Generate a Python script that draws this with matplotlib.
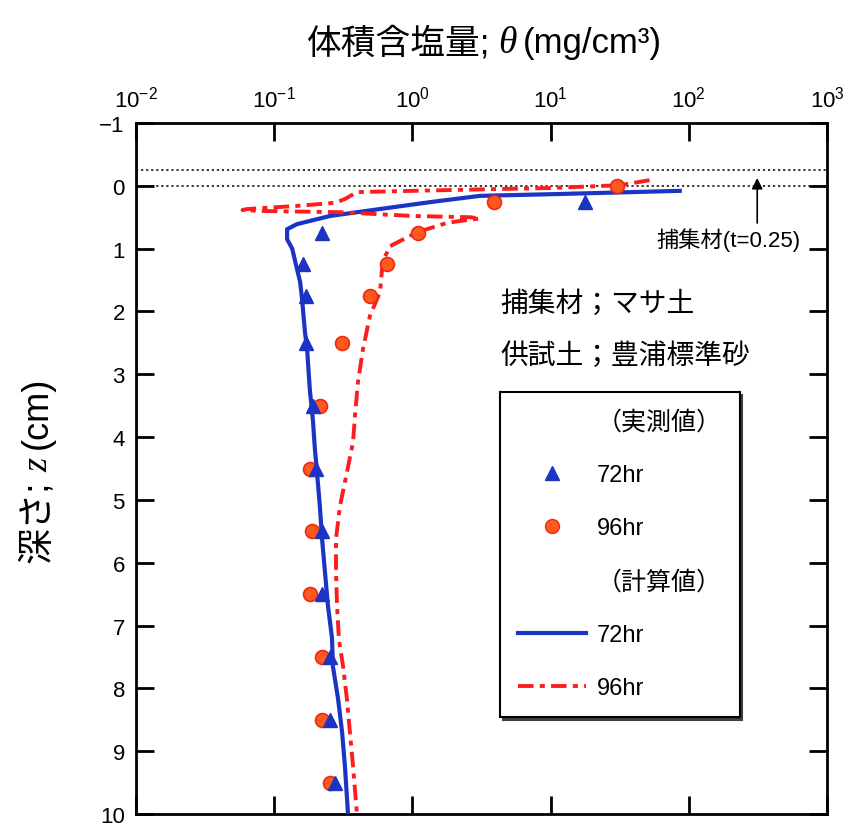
import matplotlib
matplotlib.use("Agg")
import matplotlib.pyplot as plt
from matplotlib.lines import Line2D
from matplotlib.ticker import FixedLocator, NullLocator, LogFormatterSciNotation

plt.rcParams['font.family'] = ['Liberation Sans', 'Noto Sans CJK JP', 'DejaVu Sans']
plt.rcParams['mathtext.fontset'] = 'custom'
plt.rcParams['mathtext.rm'] = 'Liberation Sans'
plt.rcParams['mathtext.it'] = 'Liberation Serif:italic'
plt.rcParams['mathtext.bf'] = 'Liberation Sans:bold'

# ---- data ----
z_obs72 = [0.25, 0.75, 1.25, 1.75, 2.5, 3.5, 4.5, 5.5, 6.5, 7.5, 8.5, 9.5]
theta_obs72 = [17.7, 0.222, 0.161, 0.17, 0.17, 0.191, 0.2, 0.22, 0.222, 0.254, 0.254, 0.275]

z_obs96 = [0.0, 0.25, 0.75, 1.25, 1.75, 2.5, 3.5, 4.5, 5.5, 6.5, 7.5, 8.5, 9.5]
theta_obs96 = [30, 3.9, 1.1, 0.65, 0.49, 0.31, 0.215, 0.181, 0.188, 0.181, 0.222, 0.222, 0.254]

z_calc72 = [0.08, 0.13, 0.16, 0.26, 0.37, 0.48, 0.61, 0.69, 0.85, 1.0, 1.32, 1.53, 1.8,
            2.33, 2.6, 3.24, 3.76, 4.19, 4.56, 5.1, 5.62, 6.15, 6.69, 7.2, 7.65, 8.17,
            8.7, 9.24, 10.0]
theta_calc72 = [86, 11.7, 3.08, 1.34, 0.58, 0.254, 0.146, 0.124, 0.124, 0.135, 0.146, 0.154,
                0.159, 0.167, 0.173, 0.181, 0.191, 0.197, 0.204, 0.214, 0.222, 0.233, 0.245,
                0.262, 0.266, 0.29, 0.31, 0.325, 0.342]

z_calc96 = [-0.09, -0.01, 0.035, 0.067, 0.10, 0.21, 0.27, 0.32, 0.37, 0.385, 0.40, 0.42,
            0.48, 0.50, 0.52, 0.56, 0.59, 0.74, 0.96, 1.2, 1.69, 2.07, 2.6, 3.12, 3.66,
            4.08, 4.56, 5.1, 5.62, 6.15, 6.69, 7.22, 7.65, 8.17, 8.7, 9.24, 10.0]
theta_calc96 = [52, 31.8, 9.9, 1.87, 0.397, 0.325, 0.275, 0.146, 0.0635, 0.059, 0.079, 0.30,
                1.0, 2.61, 3.08, 2.21, 1.78, 1.08, 0.69, 0.61, 0.583, 0.493, 0.439, 0.404,
                0.384, 0.372, 0.336, 0.299, 0.28, 0.28, 0.285, 0.294, 0.315, 0.336, 0.353,
                0.372, 0.397]

x_ticks = [1e-2, 1e-1, 1e0, 1e1, 1e2, 1e3]
y_ticks = [-1, 0, 1, 2, 3, 4, 5, 6, 7, 8, 9, 10]
trap_lines = [-0.25, 0.0]

blue = '#1c34c4'
red = '#ff1c1c'

W, H = 851, 828
fig = plt.figure(figsize=(W/100, H/100), dpi=100)
ax = fig.add_axes([136/W, 1-815/H, 691/W, 691/H])

ax.set_xscale('log')
ax.set_xlim(1e-2, 1e3)
ax.set_ylim(10, -1)

for zl in trap_lines:
    ax.axhline(zl, color='#222222', lw=1.3, ls=(0, (1.2, 1.6)), zorder=1)

ax.plot(theta_calc72, z_calc72, color=blue, lw=3, zorder=3)
ax.plot(theta_calc96, z_calc96, color=red, lw=2.8, dashes=(4, 1.6, 1.3, 1.6), zorder=3)
ax.plot(theta_obs96, z_obs96, 'o', ms=10, mfc='#ff5a1e', mec='#ee2a10', mew=1.2, zorder=4)
ax.plot(theta_obs72, z_obs72, '^', ms=10, mfc=blue, mec=blue, zorder=5)

ax.xaxis.set_major_locator(FixedLocator(x_ticks))
ax.xaxis.set_minor_locator(NullLocator())
ax.xaxis.set_major_formatter(LogFormatterSciNotation())
ax.yaxis.set_major_locator(FixedLocator(y_ticks))
ax.tick_params(axis='both', which='major', direction='in', length=13, width=2,
               top=True, bottom=True, left=True, right=True,
               labeltop=True, labelbottom=False, labelsize=16)
ax.tick_params(axis='x', pad=8)
ax.tick_params(axis='y', pad=8)
for s in ax.spines.values():
    s.set_linewidth(2)

ax.text(0.527, 1 - (305-124)/691, '捕集材；マサ土', transform=ax.transAxes,
        fontsize=20, ha='left', va='center')
ax.text(0.527, 1 - (357-124)/691, '供試土；豊浦標準砂', transform=ax.transAxes,
        fontsize=20, ha='left', va='center')
ax.text(0.962, 1 - (240-124)/691, '捕集材(t=0.25)', transform=ax.transAxes,
        fontsize=16, ha='right', va='center')
ax.annotate('', xy=(0.899, 1 - (179-124)/691), xytext=(0.899, 1 - (224-124)/691),
            xycoords='axes fraction',
            arrowprops=dict(arrowstyle='-|>', color='black', lw=1.2,
                            mutation_scale=16, shrinkA=0, shrinkB=0))

handles = [
    Line2D([], [], ls='none'),
    Line2D([], [], ls='none', marker='^', ms=10, mfc=blue, mec=blue),
    Line2D([], [], ls='none', marker='o', ms=10, mfc='#ff5a1e', mec='#ee2a10'),
    Line2D([], [], ls='none'),
    Line2D([], [], color=blue, lw=3),
    Line2D([], [], color=red, lw=2.8, dashes=(4, 1.6, 1.3, 1.6)),
]
labels = ['（実測値）', '72hr', '96hr', '（計算値）', '72hr', '96hr']
leg = ax.legend(handles, labels, loc='upper left',
                bbox_to_anchor=(0.527, 1 - (393-124)/691),
                fontsize=17, handlelength=2.9, handletextpad=0.45,
                borderpad=0.75, labelspacing=1.3, borderaxespad=0,
                frameon=True, fancybox=False, edgecolor='black',
                shadow={'color': '0.25', 'alpha': 1.0})
leg.get_frame().set_linewidth(1.5)
for i in (0, 3):
    leg.get_texts()[i].set_fontsize(18)

# ---- multi-font titles (CJK + italic symbol), chained along a baseline ----
renderer = fig.canvas.get_renderer()


def chain(pieces, cx, cy, rotation=0):
    """pieces: list of (text, kwargs, gap_after_px); cx, cy figure pixels."""
    objs = []
    for s, kw, gap in pieces:
        t = fig.text(0, 0, s, ha='left', va='baseline', rotation=rotation,
                     rotation_mode='anchor', **kw)
        objs.append((t, gap))
    widths = []
    for t, gap in objs:
        bb = t.get_window_extent(renderer)
        widths.append(bb.width if rotation == 0 else bb.height)
    total = sum(widths) + sum(g for _, g in objs[:-1])
    pos = (cx if rotation == 0 else cy) - total / 2
    for (t, gap), w in zip(objs, widths):
        if rotation == 0:
            t.set_position((pos / W, cy / H))
        else:
            t.set_position((cx / W, pos / H))
        pos += w + gap


it_kw = dict(family='Liberation Serif', style='italic')
chain([('体積含塩量;', dict(fontsize=25), 9),
       ('θ', dict(fontsize=27, **it_kw), 6),
       ('(mg/cm³)', dict(fontsize=25), 0)],
      484, H - 53)
chain([('深さ;', dict(fontsize=26), 9),
       ('z', dict(fontsize=26, **it_kw), 9),
       ('(cm)', dict(fontsize=26), 0)],
      47, H - 470, rotation=90)

fig.savefig('out.png', dpi=100)
